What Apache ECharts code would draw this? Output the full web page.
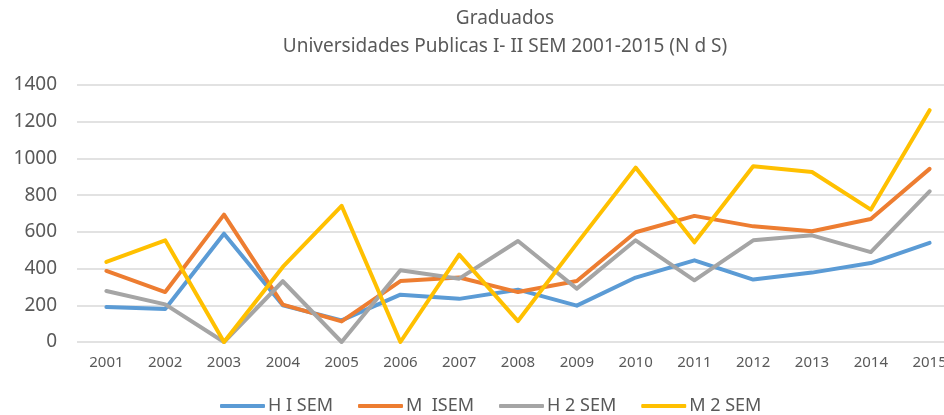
<!DOCTYPE html>
<html lang="es">
<head>
	<meta charset="UTF-8">
	<title>Graduados</title>
	<script src="https://cdn.jsdelivr.net/npm/echarts@6/dist/echarts.min.js"></script>
	<style>
		html, body { margin: 0; padding: 0; background: #fff; }
		.container { width: 944px; height: 415px; }
	</style>
</head>
<body>
	<div class="container" id="container"></div>
	<script>
		var years = ['2001','2002','2003','2004','2005','2006','2007','2008','2009','2010','2011','2012','2013','2014','2015'];
		var hISem = [190, 180, 590, 200, 118, 258, 235, 285, 198, 351, 445, 340, 378, 430, 540];
		var mISem = [387, 272, 694, 204, 112, 332, 351, 272, 332, 598, 687, 630, 603, 670, 943];
		var h2Sem = [278, 205, 0, 331, 0, 391, 345, 550, 291, 554, 336, 554, 581, 490, 821];
		var m2Sem = [436, 554, 0, 409, 742, 0, 476, 114, 536, 950, 543, 957, 926, 721, 1263];
		var names = ['H I SEM', 'M  ISEM', 'H 2 SEM', 'M 2 SEM'];
		var colors = ['#5B9BD5', '#ED7D31', '#A5A5A5', '#FFC000'];

		var textColor = '#595959';
		var font = 'Noto Sans';

		function line(name, values, i) {
			return {
				name: name,
				type: 'line',
				data: values,
				symbol: 'none',
				lineStyle: { width: 4, color: colors[i], cap: 'round', join: 'round' },
				itemStyle: { color: colors[i] },
				z: 2 + i
			};
		}

		var myChart = echarts.init(document.getElementById('container'));
		var option = {
			animation: false,
			title: {
				text: 'Graduados\nUniversidades Publicas I- II SEM 2001-2015 (N d S)',
				left: 500,
				textAlign: 'center',
				top: 0,
				textStyle: {
					fontFamily: font,
					fontSize: 19,
					fontWeight: 'normal',
					color: textColor,
					lineHeight: 28,
					align: 'center'
				}
			},
			grid: { left: 77, right: -15, top: 85, bottom: 73, outerBoundsMode: 'none' },
			legend: {
				bottom: -5,
				left: 215,
				itemWidth: 45,
				itemHeight: 4,
				itemGap: 25,
				icon: 'roundRect',
				textStyle: { fontFamily: font, fontSize: 18, color: textColor, padding: [0, 0, 0, -2] },
				data: names
			},
			xAxis: {
				type: 'category',
				data: years,
				boundaryGap: true,
				axisLine: { show: false },
				axisTick: { show: false },
				axisLabel: { fontFamily: font, fontSize: 15, color: textColor, margin: 13 }
			},
			yAxis: {
				type: 'value',
				min: 0,
				max: 1400,
				interval: 200,
				axisLine: { show: false },
				axisTick: { show: false },
				splitLine: { lineStyle: { color: '#D9D9D9', width: 1.5 } },
				axisLabel: {
					fontFamily: font, fontSize: 19, color: textColor, margin: 20,
					formatter: function (v) { return String(v); }
				}
			},
			series: [
				line(names[0], hISem, 0),
				line(names[1], mISem, 1),
				line(names[2], h2Sem, 2),
				line(names[3], m2Sem, 3)
			]
		};
		myChart.setOption(option);
	</script>
</body>
</html>
